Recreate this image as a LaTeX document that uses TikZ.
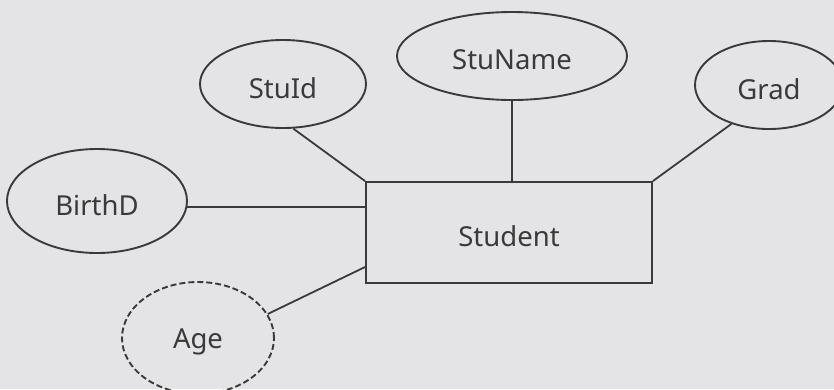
\documentclass[tikz,border=0pt]{standalone}
\usepackage{fontspec}
\setmainfont{Noto Sans}
\usetikzlibrary{shapes.geometric,calc}
\definecolor{bg}{HTML}{E4E4E7}
\definecolor{ink}{HTML}{3A3A3A}
\newcommand{\lowtxt}[1]{\raisebox{-4pt}[\height][\depth]{#1}}
\begin{document}
\begin{tikzpicture}[x=1pt,y=-1pt,
  attr/.style={ellipse,draw=ink,line width=1.9pt,inner sep=0pt,text=ink,font=\fontsize{27.5}{32}\selectfont},
  entity/.style={rectangle,draw=ink,line width=1.9pt,inner sep=0pt,text=ink,font=\fontsize{27.5}{32}\selectfont},
  link/.style={draw=ink,line width=1.8pt}]
\fill[bg] (0,0) rectangle (834,389);
\useasboundingbox (0,0) rectangle (834,389);
\node[entity,minimum width=286pt,minimum height=101pt] (stu) at (509,232.5) {\lowtxt{Student}};
\node[attr,minimum width=166pt,minimum height=88pt] (stuid) at (283,84) {\lowtxt{StuId}};
\node[attr,minimum width=230pt,minimum height=88pt] (stuname) at (512,56) {\lowtxt{StuName}};
\node[attr,minimum width=148pt,minimum height=88pt] (grad) at (769,85) {\lowtxt{Grad}};
\node[attr,minimum width=180pt,minimum height=104pt] (birthd) at (97,201) {\lowtxt{BirthD}};
\node[attr,dash pattern=on 6pt off 3pt,minimum width=152pt,minimum height=112pt] (age) at (198,338) {\lowtxt{Age}};
\draw[link] (stuid.-77) -- (stu.north west);
\draw[link] (stuname.south) -- (stuname.south |- stu.north);
\draw[link] (grad.-134) -- (stu.north east);
\draw[link] (birthd.-4) -- (birthd.-4 -| stu.west);
\draw[link] (age.19) -- ([yshift=-34.5pt]stu.west);
\end{tikzpicture}
\end{document}
